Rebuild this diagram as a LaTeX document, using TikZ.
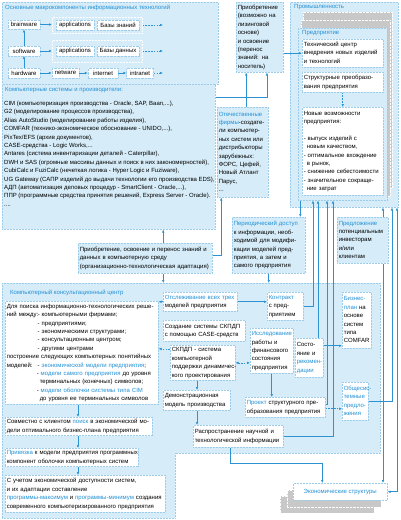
\documentclass[tikz,border=0pt]{standalone}
\usepackage{fontspec}
\setmainfont{Liberation Sans}
\usetikzlibrary{arrows.meta}
\definecolor{regfill}{HTML}{D6ECF8}
\definecolor{regline}{HTML}{9CCCEA}
\definecolor{lblue}{HTML}{2C92D2}
\definecolor{tblue}{HTML}{2190D6}
\definecolor{stk}{HTML}{C8C8C8}
\newcommand{\bl}[1]{\textcolor{tblue}{#1}}
\newcommand{\tb}[1]{\noindent\begin{tabular}{@{}l@{}}#1\end{tabular}}
\tikzset{
 region/.style={fill=regfill, draw=regline, densely dotted, line width=0.5pt},
 rg/.style 2 args={region, anchor=north west, inner sep=0pt, minimum width=#1pt, minimum height=#2pt},
 bx/.code 2 args={\pgfmathsetmacro\tw{#1-3}\edef\tmp{\noexpand\pgfkeysalso{minimum width=#1pt, minimum height=#2pt, text width=\tw pt}}\tmp},
 wb/.style 2 args={fill=white, draw=regline, densely dotted, line width=0.5pt, inner xsep=1.5pt, inner ysep=0.8pt, anchor=north west, bx={#1}{#2}},
 lb/.style 2 args={wb={#1}{#2}, fill=regfill},
 sb/.style={fill=white, draw=regline, densely dotted, line width=0.4pt, inner sep=0pt, minimum height=9.5pt},
 conn/.style={draw=lblue, line width=0.6pt, solid, -{Latex[length=3pt,width=2.6pt]}},
 dconn/.style={conn, dash pattern=on 1.6pt off 1.2pt},
 ttl/.style={text=tblue, anchor=west, inner sep=0pt},
 stkbox/.style 2 args={fill=stk, draw=white, densely dotted, anchor=north west, inner sep=0pt, minimum width=#1pt, minimum height=#2pt},
}
\begin{document}
\begin{tikzpicture}[x=1pt,y=-1pt,font=\fontsize{6}{8.4}\selectfont]
\useasboundingbox (0,0) rectangle (400,520);

% ---------- Region A
\node[rg={216}{82}] (regA) at (2,2) {};
\node[ttl] (regAt) at (5,8) {Основные макрокомпоненты информационных технологий};
\node[sb, minimum width=32pt] (brain) at (24,24.5) {brainware};
\node[sb, minimum width=32pt] (soft) at (24,51) {software};
\node[sb, minimum width=32pt] (hard) at (24,73) {hardware};
\node[rg={90}{16}, draw=white] (g1) at (52,17) {};
\node[sb, minimum width=38pt] (app1) at (75,25) {applications};
\node[sb, minimum width=42pt] (kb) at (118,25) {Базы знаний};
\node[rg={90}{22}, draw=white] (g2) at (52,40) {};
\node[sb, minimum width=38pt] (app2) at (75,51) {applications};
\node[sb, minimum width=42pt] (db) at (118,51) {Базы данных};
\node[sb, minimum width=27pt] (net) at (65.5,73) {netware};
\node[sb, minimum width=30pt] (inet) at (103,73) {internet};
\node[sb, minimum width=27pt] (intra) at (140,73) {intranet};
\coordinate (e1) at (163,25);
\coordinate (e2) at (163,51);
\coordinate (e3) at (163,73);

% ---------- Region B
\node[rg={213}{145}] (regB) at (2,84) {};
\node[ttl] (regBt) at (5,90) {Компьютерные системы и производители:};
\node[anchor=north west, inner sep=0pt] (regBl) at (4,99.5) {\tb{%
CIM (компьютеризация производства - Oracle, SAP, Baan,...),\\
G2 (моделирование процессов производства),\\
Alias AutoStudio (моделирование работы изделия),\\
COMFAR (технико-экономическое обоснование - UNIDO,...),\\
PixTex/EFS (архив документов),\\
CASE-средства - Logic Works,...\\
Antares (система инвентаризации деталей - Caterpillar),\\
DWH и SAS (огромные массивы данных и поиск в них закономерностей),\\
CubiCalc и FuziCalc (нечеткая логика - Hyper Logic и Fuziware),\\
UG Gateway (САПР изделий до выдачи технологии его производства EDS),\\
АДП (автоматизация деловых процедур - SmartClient - Oracle,...),\\
ППР (программные средства принятия решений, Express Server - Oracle).\\
....}};

% ---------- top middle
\node[lb={47}{70}] (pri) at (236,2) {\tb{Приобретение\\(возможно на\\лизинговой\\основе)\\и освоение\\(перенос\\знаний: на\\носитель)}};
\node[lb={51}{90}] (ote) at (217,107) {\tb{\bl{Отечественные}\\\bl{фирмы}-создате-\\ли компьютер-\\ных систем или\\дистрибьюторы\\зарубежных:\\ФОРС, Цефей,\\Новый Атлант\\Парус,\\...}};

% ---------- Industry
\node[rg={108}{205}] (prom) at (290,2) {};
\node[ttl] (promt) at (294,7) {Промышленность};
\node[stkbox={89}{176}] (stkA) at (303,12) {};
\node[stkbox={89}{176}] (stkB) at (300.5,20) {};
\node[rg={89}{172}] (pred) at (298,28) {};
\node[ttl] (predt) at (302,33) {Предприятие};
\node[wb={81}{28}] (tc) at (302,39) {\tb{Технический центр\\внедрения новых изделий\\и технологий}};
\node[wb={81}{20}] (str) at (302,72) {\tb{Структурные преобразо-\\вания предприятия}};
\node[wb={81}{88}] (nov) at (302,107) {\tb{Новые возможности\\предприятия:\\ \\- выпуск изделий с\\\hspace*{3pt}новым качеством,\\- оптимальное вхождение\\\hspace*{3pt}в рынок,\\- снижение себестоимости\\- значительное сокраще-\\\hspace*{3pt}ние затрат}};

% ---------- middle band
\node[lb={134}{30}] (perenos) at (78,243) {\tb{Приобретение, освоение и перенос знаний и\\данных в компьютерную среду\\(организационно-технологическая адаптация)}};
\node[lb={73}{56}] (per) at (232,217) {\tb{\bl{Периодический доступ}\\к информации, необ-\\ходимой для модифи-\\кации моделей пред-\\приятия, а затем и\\самого предприятия}};
\node[lb={51}{46}] (predl) at (337,217) {\tb{\bl{Предложение}\\потенциальным\\инвесторам\\и/или\\клиентам}};

% ---------- Consulting centre
\draw[region] (2,283) -- (380,283) -- (380,453) -- (175,453) -- (175,518) -- (2,518) -- cycle;
\coordinate (kkcN) at (0,283);
\node[ttl] (kkct) at (10,293) {Компьютерный консультационный центр};
\node[wb={153}{103}] (poisk) at (5,301) {\tb{Для поиска информационно-технологических реше-\\
\makebox[31pt][l]{ний между:}- компьютерными фирмами;\\
\hspace*{31pt}- предприятиями;\\
\hspace*{31pt}- экономическими структурами;\\
\hspace*{31pt}- консультационным центром;\\
\hspace*{31pt}- другими центрами\\
построение следующих компьютерных понятийных\\
\makebox[31pt][l]{моделей:}- \bl{экономической модели предприятия};\\
\hspace*{30pt}- \bl{модели самого предприятия} до уровня\\
\hspace*{33pt}терминальных (конечных) символов;\\
\hspace*{30pt}- \bl{модели оболочки системы типа CIM}\\
\hspace*{33pt}до уровня ее терминальных символов}};
\node[wb={147}{18}] (sovm) at (5,417) {\tb{Совместно с клиентом \bl{поиск} в экономической мо-\\дели оптимального бизнес-плана предприятия}};
\node[wb={133}{18}] (priv) at (5,448) {\tb{\bl{Привязка} к модели предприятия программных\\компонент оболочки компьютерных систем}};
\node[wb={160}{37}] (uchet) at (5,475) {\tb{С учетом экономической доступности систем,\\и их адаптации составление\\\bl{программы-максимум} и \bl{программы-минимум} создания\\современного компьютеризированного предприятия}};
\node[wb={74}{19}] (otsl) at (163,292) {\tb{\bl{Отслеживание всех трех}\\моделей предприятия}};
\node[wb={36}{28}] (kontr) at (267,292) {\tb{\bl{Контракт}\\с пред-\\приятием}};
\node[wb={82}{21}] (sozd) at (163,320) {\tb{Создание системы СКПДП\\с помощью CASE-средств}};
\node[wb={65}{35}] (skpdp) at (170,345) {\tb{СКПДП - система\\компьютерной\\поддержки динамичес-\\кого проектирования}};
\node[wb={67}{20}] (demo) at (163,390) {\tb{Демонстрационная\\модель производства}};
\node[wb={90}{22}] (rasp) at (193,425) {\tb{Распространение научной и\\технологической информации}};
\node[wb={43}{45}] (issl) at (250,328) {\tb{\bl{Исследование}\\работы и\\финансового\\состояния\\предприятия}};
\node[wb={28}{39}] (sost) at (295,338) {\tb{Состо-\\яние и\\\bl{рекомен-}\\\bl{дации}}};
\node[wb={80}{20}] (proekt) at (245,397) {\tb{\bl{Проект} структурного пре-\\образования предприятия}};
\node[wb={29}{56}] (biz) at (342,292) {\tb{\bl{Бизнес-}\\\bl{план} на\\основе\\систем\\типа\\COMFAR}};
\node[wb={26}{38}] (obsch) at (342,382) {\tb{\bl{Общесис-}\\\bl{темные}\\\bl{предло-}\\\bl{жения}}};

% ---------- Economic structures
\node[stkbox={94}{17}] (ecs2) at (280,496) {};
\node[stkbox={94}{17}] (ecs1) at (286.5,489.5) {};
\node[fill=white, draw=regline, densely dotted, line width=0.5pt, anchor=north west, inner sep=0pt, minimum width=94pt, minimum height=17pt, text=tblue] (econ) at (293,483) {Экономические структуры};

% ---------- connectors
\draw[conn] (hard) -- (soft);
\draw[conn] (soft) -- (brain);
\draw[conn] (brain.east) -- (brain.east -| g1.west);
\draw[conn] (soft.east) -- (soft.east -| g2.west);
\draw[conn] (hard) -- (net);
\draw[conn] (net) -- (inet);
\draw[conn] (inet) -- (intra);
\draw[dconn] (g1.east |- e1) -- (e1);
\draw[dconn] (g2.east |- e2) -- (e2);
\draw[dconn] (intra) -- (e3);

\coordinate (k1) at (267,97);
\draw[conn] (regB.east |- k1) -- (k1) -- (k1 |- pri.south);
\draw[conn] ([xshift=3.5pt]ote.north) -- ([xshift=3.5pt]ote.north |- pri.south);
\draw[conn] (pri.east |- tc.west) -- (tc.west);
\draw[dconn] (str.south) -- (nov.north);
\draw[conn] ([xshift=18pt]perenos.north) -- ([xshift=18pt]perenos.north |- regB.south);
\draw[conn] ([yshift=3pt]perenos.east) -| ([xshift=-21.5pt]ote.south);
\draw[conn] ([xshift=18pt]perenos.south) -- ([xshift=18pt]perenos.south |- kkcN);
\draw[conn] ([xshift=-42.5pt]pred.south) -- ([xshift=-42.5pt]pred.south |- per.north);
\draw[conn] (per.south) -- (per.south |- kkcN);

\coordinate (c78) at (78,0);
\draw[conn] (poisk.south -| c78) -- (sovm.north -| c78);
\draw[conn] (sovm.south -| c78) -- (priv.north -| c78);
\draw[conn] (priv.south -| c78) -- (uchet.north -| c78);
\draw[conn] (otsl.west) -- (otsl.west -| poisk.east);
\draw[conn] (otsl.east) -- (otsl.east -| kontr.west);
\draw[dconn] ([yshift=14pt]skpdp.west) -- ([yshift=14pt]skpdp.west -| poisk.east);
\draw[dconn, {Latex[length=3pt,width=2.6pt]}-{Latex[length=3pt,width=2.6pt]}] (skpdp.east) -- (skpdp.east -| issl.west);
\coordinate (c197) at (197,0);
\draw[conn] (skpdp.south -| c197) -- (demo.north -| c197);
\draw[conn] (demo.south -| c197) -- (rasp.north -| c197);
\draw[conn] (issl.south) -- (issl.south |- proekt.north);
\draw[conn] ([yshift=12pt]sost.east) -- ([yshift=12pt]sost.east -| biz.west);
\draw[dconn] ([yshift=-1.5pt]proekt.east) -- ([yshift=-1.5pt]proekt.east -| obsch.west);
\coordinate (u1) at (313,0);
\coordinate (u2) at (318,0);
\coordinate (u3) at (327,0);
\coordinate (u4) at (333,0);
\coordinate (u5) at (392,0);
\coordinate (u6) at (397,0);
\coordinate (u7) at (383,0);
\draw[conn] (kontr.east) -| (u1 |- pred.south);
\draw[conn] (sost.north -| u2) -- (u2 |- pred.south);
\draw[conn] ([yshift=3pt]proekt.east) -| (u3 |- pred.south);
\draw[conn] (rasp.east) -| (u4 |- pred.south);
\draw[conn] (obsch.east) -| (u5 |- prom.south);
\draw[conn] (predl.north -| u7) -- (u7 |- prom.south);
\draw[conn] (predl.south -| u7) -- (u7 |- econ.north);
\draw[conn, {Latex[length=3pt,width=2.6pt]}-{Latex[length=3pt,width=2.6pt]}] (u6 |- prom.south) |- (econ.east);
\draw[conn] ([xshift=-8pt]rasp.south) -- ++(0,16) -| ([xshift=-18pt]econ.north);
\end{tikzpicture}
\end{document}
